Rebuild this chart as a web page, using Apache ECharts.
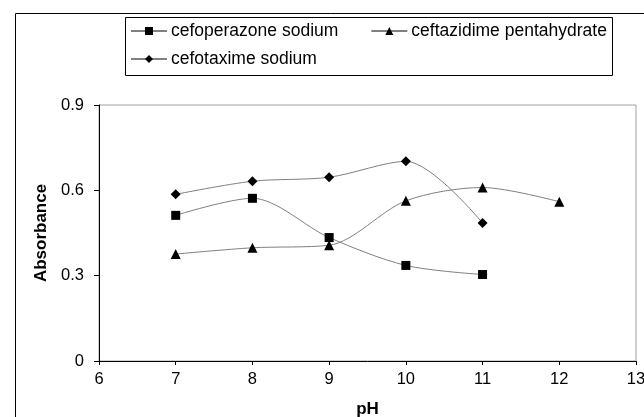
<!DOCTYPE html>
<html>
<head>
<meta charset="utf-8">
<script src="https://cdn.jsdelivr.net/npm/echarts@6/dist/echarts.min.js"></script>
<style>
  html, body { margin: 0; padding: 0; background: #fff; }
  #chart { width: 644px; height: 417px; }
</style>
</head>
<body>
<div id="chart"></div>
<script>
const phValues = [7, 8, 9, 10, 11, 12];
const cefoperazone = [0.512, 0.572, 0.434, 0.336, 0.304];
const ceftazidime = [0.376, 0.398, 0.407, 0.563, 0.61, 0.56];
const cefotaxime = [0.586, 0.632, 0.646, 0.702, 0.485];
const yTicks = [0, 0.3, 0.6, 0.9];

const pairs = (vals) => vals.map((v, i) => [phValues[i], v]);
const font = 'Liberation Sans, Arial, sans-serif';

const lineSeries = (name, vals, symbol, size) => ({
  name,
  type: 'line',
  data: pairs(vals),
  smooth: 0.3,
  symbol,
  symbolSize: size,
  showAllSymbol: true,
  lineStyle: { color: '#808080', width: 1 },
  itemStyle: { color: '#000' },
  emphasis: { disabled: true },
  animation: false
});

const legendBase = {
  orient: 'horizontal',
  itemWidth: 36,
  itemHeight: 10,
  itemGap: 32,
  padding: 0,
  textStyle: { fontFamily: font, fontSize: 17.5, color: '#000', padding: [0, 0, 0, -1] },
  selectedMode: false
};

const chart = echarts.init(document.getElementById('chart'));
chart.setOption({
  animation: false,
  backgroundColor: '#fff',
  textStyle: { fontFamily: font },
  graphic: [
    { type: 'rect', left: 13, top: 11, shape: { width: 700, height: 500 },
      style: { fill: 'none', stroke: '#000', lineWidth: 1 }, silent: true },
    { type: 'rect', left: 123, top: 15, shape: { width: 487, height: 58 },
      style: { fill: 'none', stroke: '#000', lineWidth: 1 }, silent: true }
  ],
  legend: [
    Object.assign({}, legendBase, { left: 130, top: 22, data: ['cefoperazone sodium', 'ceftazidime pentahydrate'] }),
    Object.assign({}, legendBase, { left: 130, top: 50, data: ['cefotaxime sodium'] })
  ],
  grid: {
    left: 99, right: 8, top: 105, bottom: 56,
    outerBoundsMode: 'none', containLabel: false,
    show: true, borderColor: '#a0a0a0', borderWidth: 1
  },
  xAxis: {
    type: 'value', min: 6, max: 13, interval: 1,
    name: 'pH', nameLocation: 'middle', nameGap: 40,
    nameTextStyle: { fontFamily: font, fontSize: 17, fontWeight: 'bold', color: '#000', verticalAlign: 'top' },
    axisLine: { show: true, onZero: false, lineStyle: { color: '#000', width: 1 } },
    axisTick: { show: true, length: 4, lineStyle: { color: '#000' } },
    axisLabel: { fontFamily: font, fontSize: 16.5, color: '#000', margin: 10 },
    splitLine: { show: false }
  },
  yAxis: {
    type: 'value', min: 0, max: 0.9, interval: 0.3,
    name: 'Absorbance', nameLocation: 'middle', nameGap: 48,
    nameTextStyle: { fontFamily: font, fontSize: 17, fontWeight: 'bold', color: '#000' },
    axisLine: { show: true, lineStyle: { color: '#000', width: 1 } },
    axisTick: { show: true, length: 5, lineStyle: { color: '#000' } },
    axisLabel: {
      fontFamily: font, fontSize: 16.5, color: '#000', margin: 15,
      formatter: (v) => {
        const hit = yTicks.find((t) => Math.abs(t - v) < 1e-6);
        return hit === undefined ? '' : String(hit);
      }
    },
    splitLine: { show: false }
  },
  series: [
    lineSeries('cefoperazone sodium', cefoperazone, 'rect', 9),
    lineSeries('ceftazidime pentahydrate', ceftazidime, 'triangle', 10),
    lineSeries('cefotaxime sodium', cefotaxime, 'diamond', 10)
  ]
});
</script>
</body>
</html>
